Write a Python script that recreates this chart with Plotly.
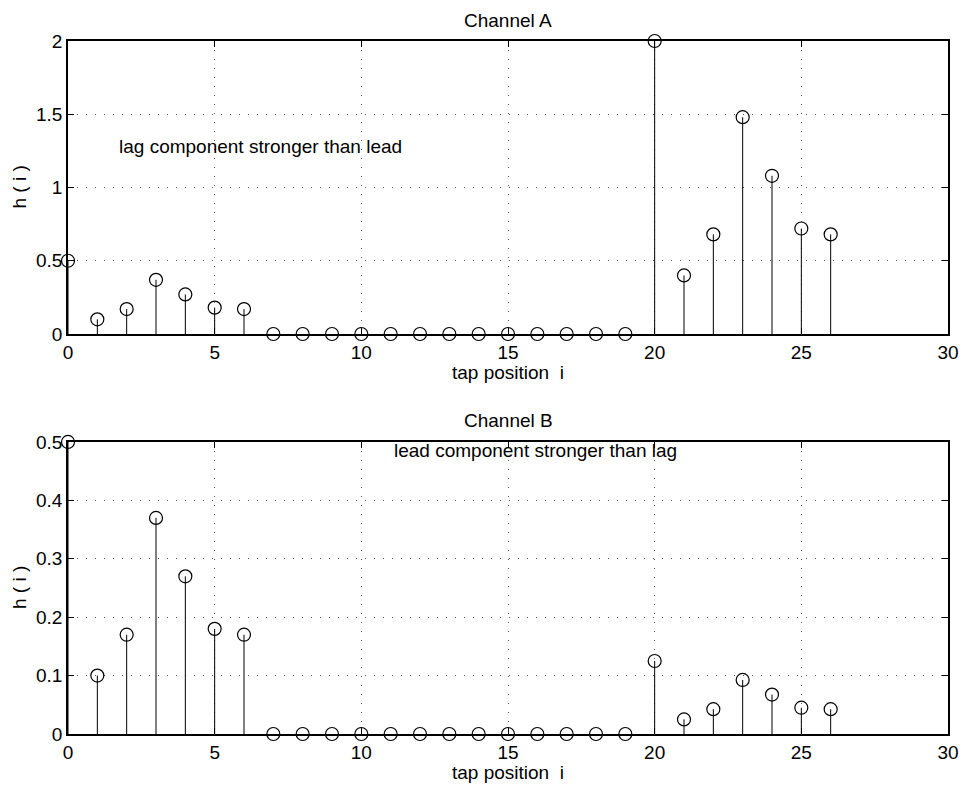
import plotly.graph_objects as go

taps = list(range(27))
h_a = [0.5, 0.1, 0.17, 0.37, 0.27, 0.18, 0.17,
       0, 0, 0, 0, 0, 0, 0, 0, 0, 0, 0, 0, 0,
       2.0, 0.4, 0.68, 1.48, 1.08, 0.72, 0.68]
h_b = [0.5, 0.1, 0.17, 0.37, 0.27, 0.18, 0.17,
       0, 0, 0, 0, 0, 0, 0, 0, 0, 0, 0, 0, 0,
       0.125, 0.025, 0.0425, 0.0925, 0.0675, 0.045, 0.0425]
titles = ["Channel A", "Channel B"]
notes = ["lag component stronger than lead", "lead component stronger than lag"]
x_label = "tap position  i"
y_label = "h ( i )"
x_ticks = [0, 5, 10, 15, 20, 25, 30]
y_ticks_a = [0, 0.5, 1, 1.5, 2]
y_text_a = ["0", "0.5", "1", "1.5", "2"]
y_ticks_b = [0, 0.1, 0.2, 0.3, 0.4, 0.5]
y_text_b = ["0", "0.1", "0.2", "0.3", "0.4", "0.5"]

FONT = "Liberation Sans, Arial, Helvetica, sans-serif"
FS = 19

fig = go.Figure()

def add_stem(vals, xa, ya):
    sx, sy = [], []
    for t, v in zip(taps, vals):
        if v != 0:
            sx += [t, t, None]
            sy += [0, v, None]
    fig.add_trace(go.Scatter(x=sx, y=sy, mode="lines", xaxis=xa, yaxis=ya,
                             line=dict(color="black", width=1), hoverinfo="skip",
                             showlegend=False))
    fig.add_trace(go.Scatter(x=taps, y=vals, mode="markers", xaxis=xa, yaxis=ya,
                             marker=dict(symbol="circle-open", size=13,
                                         color="black", line=dict(width=1.2)),
                             cliponaxis=False, showlegend=False))

add_stem(h_a, "x", "y")
add_stem(h_b, "x2", "y2")

axis_common = dict(showline=True, linecolor="black", linewidth=1.5, mirror="ticks",
                   ticks="inside", ticklen=6, tickcolor="black", tickwidth=1,
                   showgrid=True, gridcolor="#555555", griddash="1px,8px", gridwidth=1,
                   zeroline=False, automargin=False,
                   tickfont=dict(size=FS, color="black", family=FONT))

fig.update_layout(
    width=961, height=786,
    margin=dict(l=68, r=13, t=41, b=52, autoexpand=False),
    plot_bgcolor="white", paper_bgcolor="white",
    font=dict(family=FONT, size=FS, color="black"),
    xaxis=dict(domain=[0, 1], anchor="y", range=[0, 30], tickvals=x_ticks, **axis_common),
    yaxis=dict(domain=[0.5772, 1], anchor="x", range=[0, 2], tickvals=y_ticks_a,
               ticktext=y_text_a, **axis_common),
    xaxis2=dict(domain=[0, 1], anchor="y2", range=[0, 30], tickvals=x_ticks, **axis_common),
    yaxis2=dict(domain=[0, 0.4214], anchor="x2", range=[0, 0.5], tickvals=y_ticks_b,
                ticktext=y_text_b, **axis_common),
    showlegend=False,
)

for i, (xa, ya) in enumerate([("x", "y"), ("x2", "y2")]):
    fig.add_annotation(text=titles[i], xref=f"{xa} domain", yref=f"{ya} domain", x=0.5, y=1,
                       yshift=21, yanchor="middle", showarrow=False, font=dict(size=FS))
    fig.add_annotation(text=x_label, xref=f"{xa} domain", yref=f"{ya} domain", x=0.5, y=0,
                       yshift=-38, yanchor="middle", showarrow=False, font=dict(size=FS))
    fig.add_annotation(text=y_label, xref=f"{xa} domain", yref=f"{ya} domain", x=0, y=0.5,
                       xshift=-48, xanchor="center", yanchor="middle", textangle=-90,
                       showarrow=False, font=dict(size=FS))

fig.add_annotation(text=notes[0], xref="x", yref="y", x=1.67, y=1.283,
                   xanchor="left", yanchor="middle", showarrow=False, font=dict(size=FS))
fig.add_annotation(text=notes[1], xref="x2", yref="y2", x=11.05, y=0.4846,
                   xanchor="left", yanchor="middle", showarrow=False, font=dict(size=FS))

fig.write_html("out.html")
